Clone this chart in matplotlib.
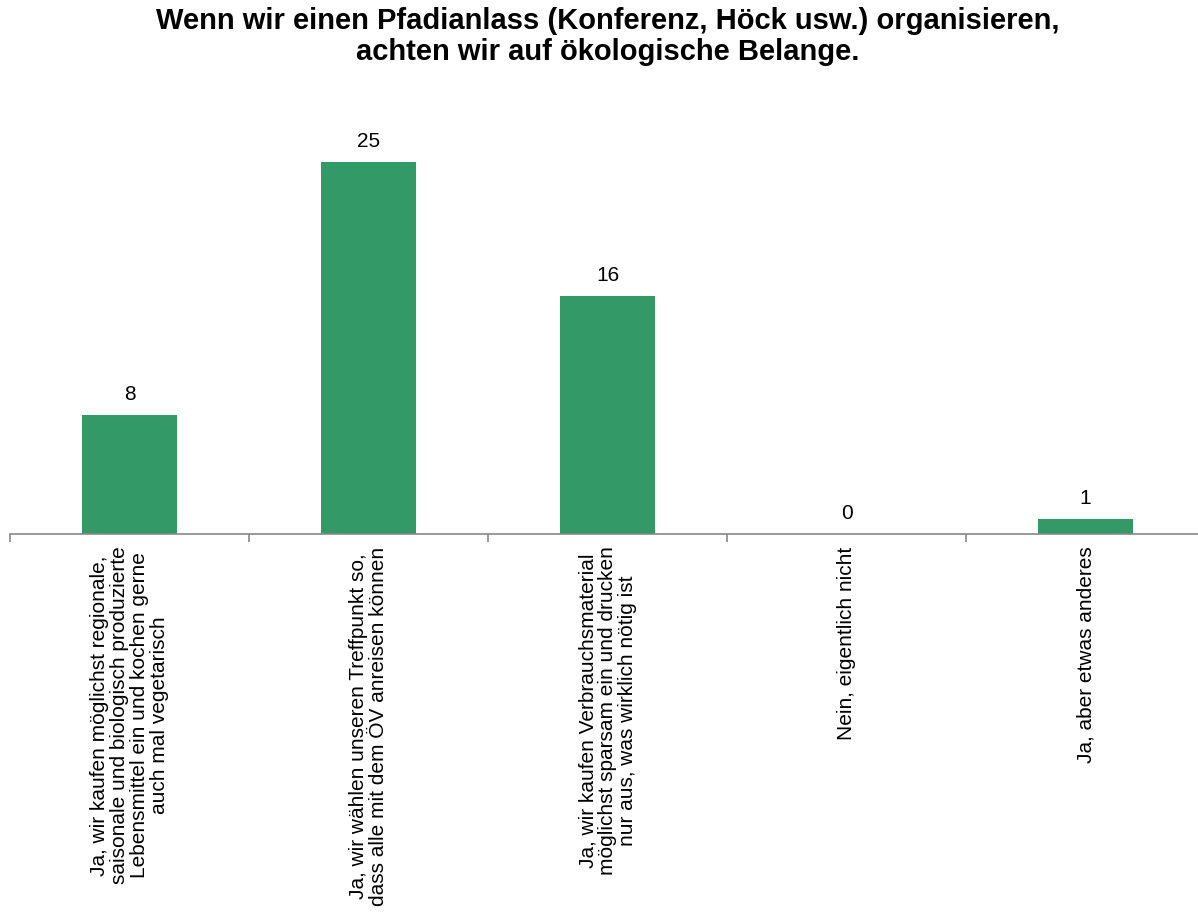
import numpy as np
import matplotlib.pyplot as plt

plt.rcParams['font.family'] = ['Liberation Sans', 'DejaVu Sans']

title = "Wenn wir einen Pfadianlass (Konferenz, Höck usw.) organisieren,\nachten wir auf ökologische Belange."
categories = [
    "Ja, wir kaufen möglichst regionale,\nsaisonale und biologisch produzierte\nLebensmittel ein und kochen gerne\nauch mal vegetarisch",
    "Ja, wir wählen unseren Treffpunkt so,\ndass alle mit dem ÖV anreisen können",
    "Ja, wir kaufen Verbrauchsmaterial\nmöglichst sparsam ein und drucken\nnur aus, was wirklich nötig ist",
    "Nein, eigentlich nicht",
    "Ja, aber etwas anderes",
]
values = [8, 25, 16, 0, 1]

fig = plt.figure(figsize=(11.98, 9.13), dpi=100)
# plot area runs a bit past the right edge, like the original
ax = fig.add_axes([10/1198, (913-534)/913, 1195/1198, 434/913])

x = np.arange(len(values))
ax.bar(x, values, width=0.4, color='#339966')
for xi, v in zip(x, values):
    ax.annotate(str(v), (xi, v), xytext=(0, 8), textcoords='offset points',
                ha='center', va='bottom', fontsize=15)

ax.set_xlim(-0.5, len(values) - 0.5)
ax.set_ylim(0, 434/14.88)
ax.set_yticks([])
for s in ['top', 'right', 'left']:
    ax.spines[s].set_visible(False)
ax.spines['bottom'].set_color('#888888')
ax.spines['bottom'].set_linewidth(1.2)

ax.set_xticks(np.arange(len(values) + 1) - 0.5, minor=False)
ax.set_xticklabels([])
ax.tick_params(axis='x', which='major', length=6, color='#888888', width=1.2, direction='out')
ax.set_xticks(x, minor=True)
ax.set_xticklabels(categories, minor=True, rotation=90, fontsize=15,
                   ha='center', va='top', multialignment='center', linespacing=1.05)
ax.tick_params(axis='x', which='minor', length=0, pad=9)

fig.text(607.5/1198, 1 - 7/913, title, ha='center', va='top', fontsize=21,
         fontweight='bold', linespacing=1.15)

fig.savefig('out.png', dpi=100)
